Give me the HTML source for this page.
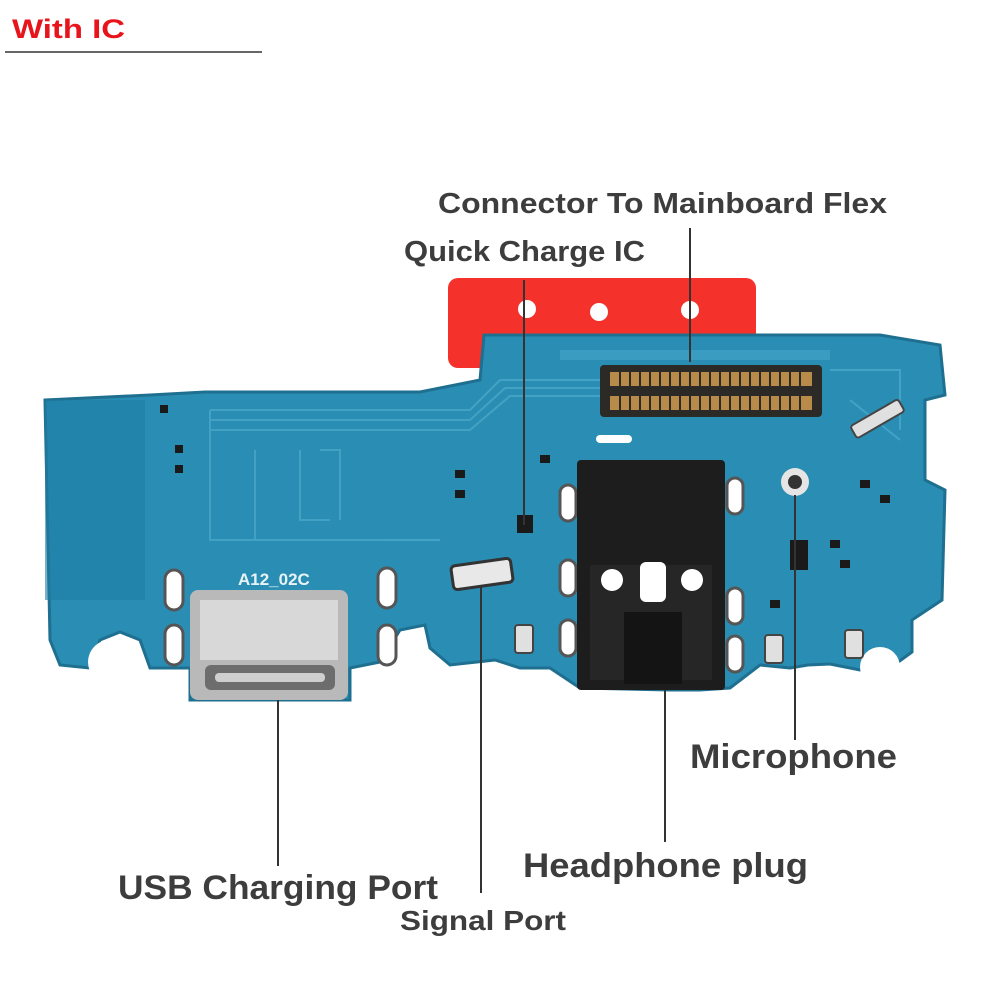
<!DOCTYPE html>
<html><head><meta charset="utf-8"><style>
html,body{margin:0;padding:0;background:#fff;}
svg{display:block;}
text{font-family:"Liberation Sans",Arial,sans-serif;font-weight:bold;}
</style></head><body>
<svg width="1000" height="1000" viewBox="0 0 1000 1000" xmlns="http://www.w3.org/2000/svg">
<rect width="1000" height="1000" fill="#fff"/>
<text x="12" y="38" font-size="27" fill="#e8141b" textLength="113" lengthAdjust="spacingAndGlyphs">With IC</text>
<line x1="5" y1="52" x2="262" y2="52" stroke="#333" stroke-width="1.5"/>

<!-- red flex -->
<rect x="448" y="278" width="308" height="90" rx="10" fill="#f4322b"/>
<circle cx="527" cy="309" r="9" fill="#fff"/>
<circle cx="599" cy="312" r="9" fill="#fff"/>
<circle cx="690" cy="310" r="9" fill="#fff"/>

<!-- PCB -->
<path d="M45 400 L150 395 L205 392 L420 392 L480 380 L484 335 L880 335 L940 345 L945 395 L925 400 L925 480 L945 490 L942 600 L912 620 L912 652 L890 668 L860 670 L830 664 L808 665 L790 668 L760 665 L730 688 L700 690 L670 690 L580 688 L550 668 L520 668 L495 660 L450 665 L430 648 L425 625 L400 630 L380 662 L350 668 L350 700 L190 700 L190 668 L150 668 L140 640 L120 632 L100 640 L90 668 L60 665 L50 640 Z" fill="#2a8db3"/>
<path d="M45 400 L150 395 L205 392 L420 392 L480 380 L484 335 L880 335 L940 345 L945 395 L925 400 L925 480 L945 490 L942 600 L912 620 L912 652 L890 668 L860 670 L830 664 L808 665 L790 668 L760 665 L730 688 L700 690 L670 690 L580 688 L550 668 L520 668 L495 660 L450 665 L430 648 L425 625 L400 630 L380 662 L350 668 L350 700 L190 700 L190 668 L150 668 L140 640 L120 632 L100 640 L90 668 L60 665 L50 640 Z" fill="none" stroke="#1e6f90" stroke-width="3"/>
<rect x="45" y="400" width="100" height="200" fill="#1f7fa5" opacity="0.6"/>
<!-- traces -->
<g stroke="#4aa8c9" stroke-width="2" fill="none" opacity="0.8">
<path d="M210 410 L470 410 L500 380 L600 380"/>
<path d="M210 420 L470 420 L505 388 L600 388"/>
<path d="M210 430 L470 430 L510 396 L600 396"/>
<path d="M210 410 L210 540 L440 540"/>
<path d="M255 450 L255 540 M300 450 L300 520 L330 520 M320 450 L340 450 L340 520"/>
<path d="M830 370 L900 370 L900 430 M850 400 L900 440"/>
</g>
<rect x="560" y="350" width="270" height="10" fill="#3a9cc0"/>
<!-- holes / notches -->
<circle cx="110" cy="662" r="22" fill="#fff"/>
<circle cx="405" cy="660" r="20" fill="#fff"/>
<circle cx="880" cy="667" r="20" fill="#fff"/>
<!-- connector -->
<rect x="600" y="365" width="222" height="52" rx="4" fill="#2b2a27"/>
<rect x="610" y="372" width="202" height="14" fill="#b88b4a"/>
<rect x="610" y="396" width="202" height="14" fill="#b88b4a"/>
<g stroke="#2b2a27" stroke-width="2">
<path d="M620 372v14M630 372v14M640 372v14M650 372v14M660 372v14M670 372v14M680 372v14M690 372v14M700 372v14M710 372v14M720 372v14M730 372v14M740 372v14M750 372v14M760 372v14M770 372v14M780 372v14M790 372v14M800 372v14"/>
<path d="M620 396v14M630 396v14M640 396v14M650 396v14M660 396v14M670 396v14M680 396v14M690 396v14M700 396v14M710 396v14M720 396v14M730 396v14M740 396v14M750 396v14M760 396v14M770 396v14M780 396v14M790 396v14M800 396v14"/>
</g>
<rect x="596" y="435" width="36" height="8" rx="4" fill="#fff"/>
<!-- USB port -->
<rect x="190" y="590" width="158" height="110" rx="8" fill="#b9b9b9"/>
<rect x="200" y="600" width="138" height="60" fill="#d8d8d8"/>
<rect x="205" y="665" width="130" height="25" rx="6" fill="#6d6d6d"/>
<rect x="215" y="673" width="110" height="9" rx="4" fill="#cfcfcf"/>
<text x="238" y="585" font-size="17" font-weight="normal" fill="#e8f3f8">A12_02C</text>
<g fill="#fff" stroke="#555" stroke-width="3">
<rect x="165" y="570" width="18" height="40" rx="9"/><rect x="165" y="625" width="18" height="40" rx="9"/>
<rect x="378" y="568" width="18" height="40" rx="9"/><rect x="378" y="625" width="18" height="40" rx="9"/>
<rect x="560" y="485" width="16" height="36" rx="8"/><rect x="560" y="560" width="16" height="36" rx="8"/><rect x="560" y="620" width="16" height="36" rx="8"/>
<rect x="727" y="478" width="16" height="36" rx="8"/><rect x="727" y="588" width="16" height="36" rx="8"/><rect x="727" y="636" width="16" height="36" rx="8"/>
</g>
<!-- headphone jack -->
<rect x="577" y="460" width="148" height="230" rx="4" fill="#1d1d1d"/>
<rect x="590" y="565" width="122" height="115" fill="#262626"/>
<circle cx="612" cy="580" r="11" fill="#fff"/><circle cx="692" cy="580" r="11" fill="#fff"/>
<rect x="640" y="562" width="26" height="40" rx="6" fill="#fff"/>
<rect x="624" y="612" width="58" height="72" fill="#141414"/>
<!-- signal port -->
<rect x="452" y="562" width="60" height="24" rx="4" fill="#e8e8e8" stroke="#333" stroke-width="3" transform="rotate(-8 482 574)"/>
<!-- mic -->
<circle cx="795" cy="482" r="14" fill="#e5e5e5"/><circle cx="795" cy="482" r="7" fill="#333"/>
<!-- small components -->
<g fill="#1a1a1a">
<rect x="517" y="515" width="16" height="18"/><rect x="790" y="540" width="18" height="30"/>
<rect x="160" y="405" width="8" height="8"/><rect x="175" y="445" width="8" height="8"/><rect x="175" y="465" width="8" height="8"/>
<rect x="455" y="470" width="10" height="8"/><rect x="455" y="490" width="10" height="8"/><rect x="540" y="455" width="10" height="8"/>
<rect x="860" y="480" width="10" height="8"/><rect x="880" y="495" width="10" height="8"/><rect x="830" y="540" width="10" height="8"/>
<rect x="840" y="560" width="10" height="8"/><rect x="770" y="600" width="10" height="8"/>
</g>
<g fill="#e0e0e0" stroke="#444" stroke-width="2">
<rect x="515" y="625" width="18" height="28" rx="3"/><rect x="765" y="635" width="18" height="28" rx="3"/><rect x="845" y="630" width="18" height="28" rx="3"/>
<rect x="850" y="412" width="55" height="14" rx="3" transform="rotate(-30 877 419)"/>
</g>

<!-- leader lines -->
<g stroke="#333" stroke-width="2">
<line x1="690" y1="228" x2="690" y2="362"/>
<line x1="524" y1="280" x2="524" y2="525"/>
<line x1="795" y1="495" x2="795" y2="740"/>
<line x1="665" y1="690" x2="665" y2="842"/>
<line x1="278" y1="700" x2="278" y2="866"/>
<line x1="481" y1="585" x2="481" y2="893"/>
</g>
<!-- labels -->
<g fill="#3d3d3d">
<text x="438" y="213" font-size="29" textLength="449" lengthAdjust="spacingAndGlyphs">Connector To Mainboard Flex</text>
<text x="404" y="261" font-size="29" textLength="241" lengthAdjust="spacingAndGlyphs">Quick Charge IC</text>
<text x="690" y="768" font-size="34" textLength="207" lengthAdjust="spacingAndGlyphs">Microphone</text>
<text x="523" y="877" font-size="34" textLength="285" lengthAdjust="spacingAndGlyphs">Headphone plug</text>
<text x="118" y="899" font-size="34" textLength="320" lengthAdjust="spacingAndGlyphs">USB Charging Port</text>
<text x="400" y="930" font-size="28" textLength="166" lengthAdjust="spacingAndGlyphs">Signal Port</text>
</g>
</svg>
</body></html>
